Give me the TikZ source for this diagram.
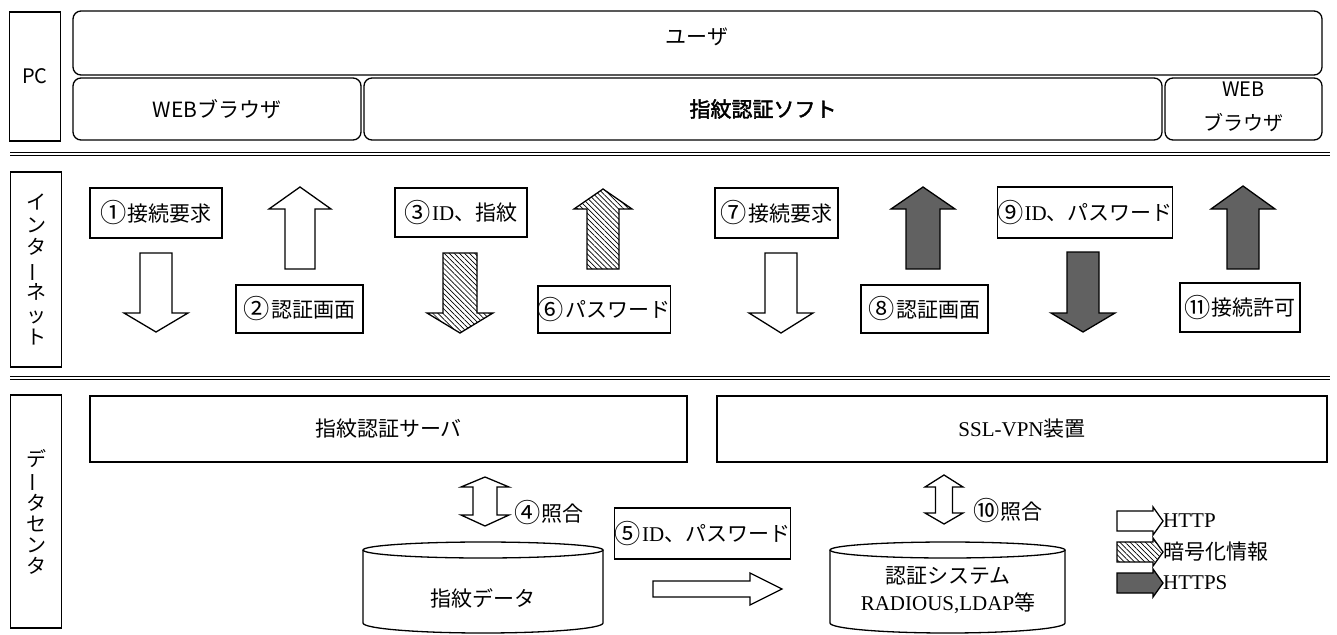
\documentclass[tikz,border=0pt]{standalone}
\usepackage{fontspec}
\usepackage{graphicx}
\setmainfont{Liberation Serif}
\newfontfamily\jp{Noto Sans CJK JP}
\newfontfamily\jpb[FakeBold=2]{Noto Sans CJK JP}
\usetikzlibrary{patterns.meta}
\newcommand\blockarr[7]{% style, cx, start, base, tip, shaft half width, head half width
  \draw[#1] ({#2-#6},#3) -- ({#2-#6},#4) -- ({#2-#7},#4) -- (#2,#5) -- ({#2+#7},#4) -- ({#2+#6},#4) -- ({#2+#6},#3) -- cycle;}
\newcommand\hblockarr[7]{% style, cy, start, base, tip, shaft half width, head half width
  \draw[#1] (#3,{#2-#6}) -- (#4,{#2-#6}) -- (#4,{#2-#7}) -- (#5,#2) -- (#4,{#2+#7}) -- (#4,{#2+#6}) -- (#3,{#2+#6}) -- cycle;}
\newcommand\dblarr[7]{% cx, top tip, top base, bottom base, bottom tip, sw, hw
  \draw[httpA] (#1,#2) -- ({#1+#7},#3) -- ({#1+#6},#3) -- ({#1+#6},#4) -- ({#1+#7},#4) -- (#1,#5) -- ({#1-#7},#4) -- ({#1-#6},#4) -- ({#1-#6},#3) -- ({#1-#7},#3) -- cycle;}
\newcommand\vbar{\rotatebox[origin=c]{90}{ー}}
\newcommand\cn[1]{{\jp\raisebox{-0.08em}{\scalebox{1.25}{#1}}\hspace{0.05em}}}
\begin{document}
\begin{tikzpicture}[x=1pt,y=-1pt,
  lw/.style={line width=1.3pt},
  tbox/.style={draw, lw, inner sep=0pt, font=\fontsize{21}{24}\selectfont},
  rbox/.style={draw, lw, rounded corners=8pt, inner sep=0pt},
  sideb/.style={draw, lw, inner sep=0pt, minimum width=51pt, align=center, font=\jp\fontsize{20}{22.5}\selectfont},
  sans/.style={font=\jp\fontsize{21}{25}\selectfont, align=center, inner sep=0pt},
  plain/.style={font=\fontsize{21}{24}\selectfont, inner sep=0pt},
  httpA/.style={draw, lw, fill=white, line join=miter},
  encA/.style={draw, lw, fill=white, postaction={pattern={Lines[angle=-45,distance=3.6pt,line width=0.7pt]}}},
  httpsA/.style={draw, lw, fill=black!62},
  dline/.style={double, double distance=2.6pt, line width=1.1pt}
]
\useasboundingbox (0,0) rectangle (1337,634);

% ---------- PC layer ----------
\node[sideb, minimum height=129pt] (pc) at (35,76.5) {PC};
\node[rbox, minimum width=1249pt, minimum height=64pt] (user) at (697.5,43) {};
\node[sans] (usert) at (697,37) {ユーザ};
\node[rbox, minimum width=288pt, minimum height=62pt] (web1) at (217,109) {};
\node[sans] (web1t) at (217,109) {WEBブラウザ};
\node[rbox, minimum width=798pt, minimum height=62pt] (soft) at (763,109) {};
\node[sans, font=\jpb\fontsize{21}{25}\selectfont] (softt) at (763,109) {指紋認証ソフト};
\node[rbox, minimum width=157pt, minimum height=62pt] (web2) at (1243.5,109) {};
\node[sans, font=\jp\fontsize{20}{34}\selectfont] (web2t) at (1243.5,107) {WEB\\ブラウザ};

\draw[dline] (10,154) coordinate (l1a) -- (1330,154) coordinate (l1b);

% ---------- Internet layer ----------
\node[sideb, minimum height=195pt] (inet) at (36,269.5) {イ\\ン\\タ\\\vbar\\ネ\\ッ\\ト};

\node[tbox, minimum width=132pt, minimum height=50pt] (s1) at (156,213) {\cn{①}{\jp 接続要求}};
\node[tbox, minimum width=127pt, minimum height=48pt] (s2) at (299.5,309) {\cn{②}{\jp 認証画面}};
\node[tbox, minimum width=132pt, minimum height=49pt] (s3) at (461,212.5) {\cn{③}ID{\jp 、指紋}};
\node[tbox, minimum width=132pt, minimum height=47pt] (s6) at (604,309.5) {\cn{⑥}{\jp パスワード}};
\node[tbox, minimum width=123pt, minimum height=50pt] (s7) at (776.5,213) {\cn{⑦}{\jp 接続要求}};
\node[tbox, minimum width=127pt, minimum height=48pt] (s8) at (924.5,309) {\cn{⑧}{\jp 認証画面}};
\node[tbox, minimum width=164pt, minimum height=51pt] (s9) at (1085,212.5) {\cn{⑨}ID{\jp 、パスワード}};
\node[tbox, minimum width=120pt, minimum height=49pt] (s11) at (1240,307.5) {\cn{⑪}{\jp 接続許可}};

\blockarr{httpA}{156}{253}{313}{332}{16}{32}
\blockarr{httpA}{300}{269}{209}{187}{15}{31}
\blockarr{encA}{460}{253}{313}{333}{17}{33}
\blockarr{encA}{603}{269}{209}{189}{16}{29}
\blockarr{httpA}{781}{253}{313}{333}{16}{32}
\blockarr{httpsA}{923}{269}{209}{187}{17}{32}
\blockarr{httpsA}{1083}{252}{313}{332}{16}{32}
\blockarr{httpsA}{1243}{269}{209}{186}{16}{32}

\draw[dline] (10,378) coordinate (l2a) -- (1330,378) coordinate (l2b);

% ---------- Data center layer ----------
\node[sideb, minimum height=233pt, font=\jp\fontsize{20}{21}\selectfont] (dc) at (36,511.5) {デ\\\vbar\\タ\\セ\\ン\\タ};

\node[tbox, minimum width=597pt, minimum height=66pt] (fsrv) at (388.5,429) {\jp 指紋認証サーバ};
\node[tbox, minimum width=610pt, minimum height=66pt] (vpn) at (1022,429) {SSL-VPN{\jp 装置}};

\dblarr{485}{477}{487}{515}{526}{12}{24}
\node[plain] (c4) at (549,513) {\cn{④}{\jp 照合}};
\dblarr{944}{475}{487}{513}{524}{8.5}{19}
\node[plain] (c10) at (1008,511) {\cn{⑩}{\jp 照合}};

\node[tbox, minimum width=163pt, minimum height=51pt] (s5) at (702.5,533.5) {\cn{⑤}ID{\jp 、パスワード}};
\hblockarr{httpA}{589}{653}{750}{782}{8}{16}

% cylinders
\draw[lw, fill=white] (363,550) -- (363,623) arc[start angle=180, end angle=360, x radius=120pt, y radius=10pt] -- (603,550);
\draw[lw] (483,550) ellipse [x radius=120pt, y radius=8pt];
\node[plain] (fdata) at (483,598) {\jp 指紋データ};

\draw[lw, fill=white] (830,550) -- (830,623) arc[start angle=180, end angle=360, x radius=117.5pt, y radius=10pt] -- (1065,550);
\draw[lw] (947.5,550) ellipse [x radius=117.5pt, y radius=8pt];
\node[plain] (auth1) at (948,576) {\jp 認証システム};
\node[plain] (auth2) at (948,603) {RADIOUS,LDAP{\jp 等}};

% legend
\hblockarr{httpA}{521}{1117}{1153}{1163}{10}{14}
\node[plain, anchor=west] (lg1) at (1163,521) {HTTP};
\hblockarr{encA}{552}{1117}{1153}{1163}{10}{14}
\node[plain, anchor=west] (lg2) at (1163,552) {\jp 暗号化情報};
\hblockarr{httpsA}{583}{1117}{1153}{1163}{10}{14}
\node[plain, anchor=west] (lg3) at (1163,583) {HTTPS};
\end{tikzpicture}
\end{document}
